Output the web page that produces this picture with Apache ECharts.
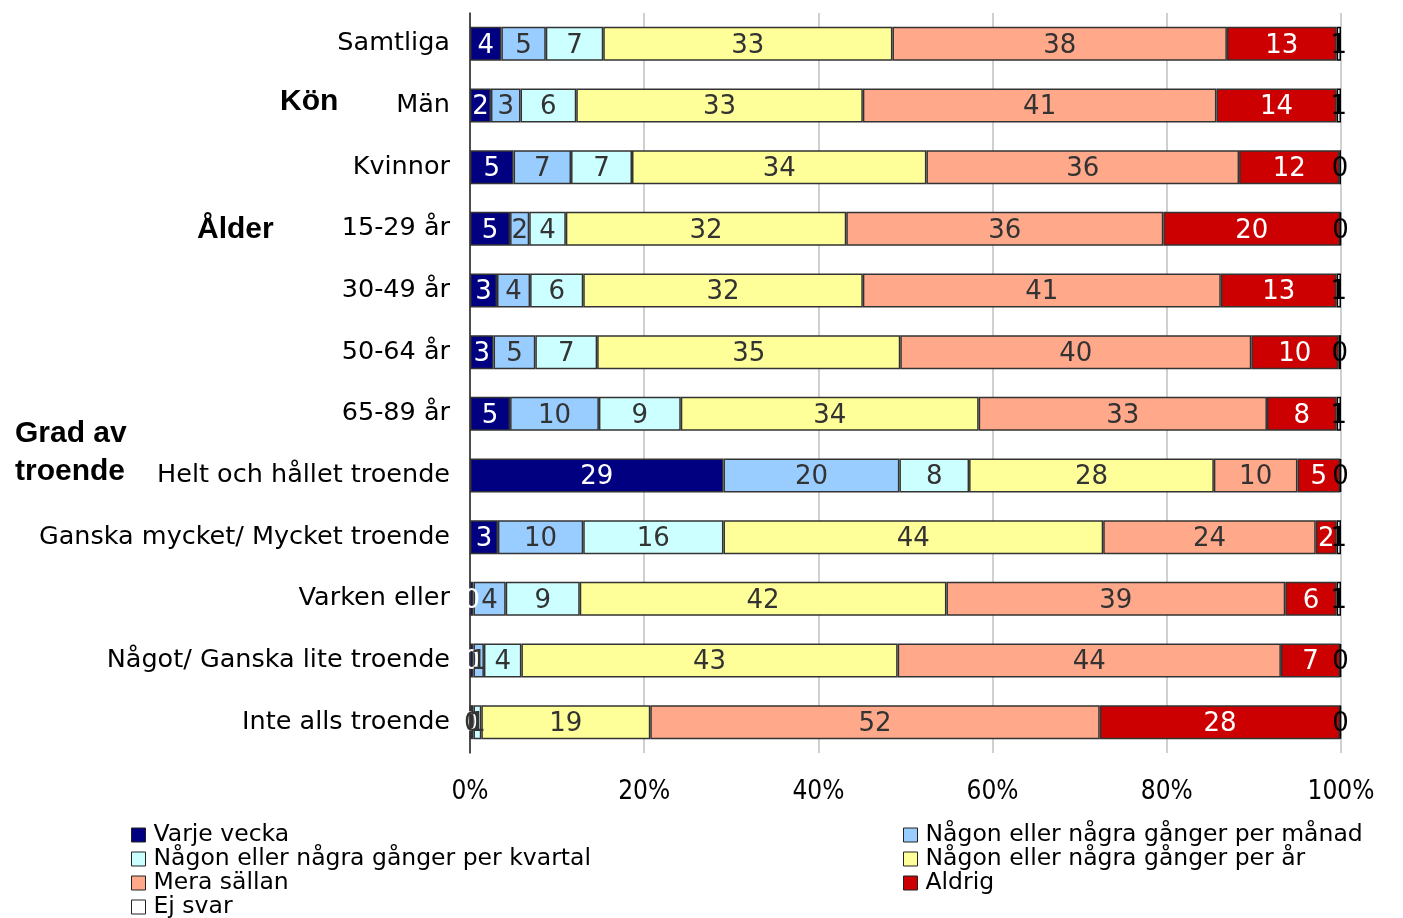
<!DOCTYPE html>
<html>
<head>
<meta charset="utf-8">
<script src="https://cdn.jsdelivr.net/npm/echarts@6/dist/echarts.min.js"></script>
<style>
  html, body { margin: 0; padding: 0; background: #fff; }
  #chart { width: 1403px; height: 918px; }
</style>
</head>
<body>
<div id="chart"></div>
<script>
// kategorier (uppifrån och ned)
const categories = ["Samtliga", "Män", "Kvinnor", "15-29 år", "30-49 år", "50-64 år", "65-89 år",
  "Helt och hållet troende", "Ganska mycket/ Mycket troende", "Varken eller",
  "Något/ Ganska lite troende", "Inte alls troende"];

// andelar i procent
const varjeVecka = [3.6, 2.4, 5.0, 4.6, 3.1, 2.7, 4.6, 29.1, 3.2, 0.4, 0.4, 0.1];
const perManad   = [5.1, 3.4, 6.6, 2.2, 3.8, 4.8, 10.2, 20.2, 9.8, 3.7, 1.2, 0.3];
const perKvartal = [6.6, 6.4, 7.0, 4.2, 6.1, 7.1, 9.4, 8.0, 16.1, 8.5, 4.3, 0.9];
const perAr      = [33.2, 32.9, 33.8, 32.2, 32.1, 34.8, 34.2, 28.1, 43.6, 42.1, 43.2, 19.4];
const meraSallan = [38.4, 40.6, 35.9, 36.4, 41.1, 40.3, 33.1, 9.6, 24.4, 38.9, 44.0, 51.6];
const aldrig     = [12.6, 13.8, 11.5, 20.3, 13.3, 10.0, 8.0, 4.9, 2.4, 5.9, 6.8, 27.6];
const ejSvar     = [0.5, 0.5, 0.2, 0.1, 0.5, 0.3, 0.5, 0.1, 0.5, 0.5, 0.1, 0.1];

const xTicks = [0, 20, 40, 60, 80, 100];

const serieNamn = ["Varje vecka", "Någon eller några gånger per månad", "Någon eller några gånger per kvartal",
  "Någon eller några gånger per år", "Mera sällan", "Aldrig", "Ej svar"];
const serieData = [varjeVecka, perManad, perKvartal, perAr, meraSallan, aldrig, ejSvar];
const farger = ["#000080", "#99CCFF", "#CCFFFF", "#FFFF99", "#FFA88A", "#CC0000", "#FFFFFF"];
const textFarg = ["#fff", "#333", "#333", "#333", "#333", "#fff", "#000"];

let myChart = echarts.init(document.getElementById("chart"));

let series = serieNamn.map((n, i) => ({
  type: "bar",
  name: n,
  stack: "total",
  barWidth: 34,
  data: serieData[i],
  animation: false,
  itemStyle: {
    color: farger[i],
    borderColor: i === 6 ? "#000" : "#333",
    borderWidth: 1.5
  },
  label: {
    show: true,
    position: "inside",
    formatter: p => Math.round(p.value),
    color: textFarg[i],
    fontFamily: "DejaVu Sans",
    fontSize: 26,
    offset: [0, 2]
  },
  emphasis: { disabled: true }
}));

let legendBas = {
  orient: "vertical",
  padding: 0,
  itemWidth: 14,
  itemHeight: 14,
  itemGap: 0,
  icon: "rect",
  selectedMode: false,
  height: 140,
  itemStyle: { borderColor: "#222", borderWidth: 1 },
  textStyle: {
    fontFamily: "DejaVu Sans",
    fontSize: 23.5,
    lineHeight: 23.6,
    color: "#000",
    padding: [0, 0, 0, 3]
  }
};

let option = {
  backgroundColor: "#fff",
  grid: {
    left: 470,
    right: 62,
    top: 13,
    bottom: 165
  },
  legend: [
    Object.assign({}, legendBas, {
      left: 131, top: 823,
      data: [serieNamn[0], serieNamn[2], serieNamn[4], serieNamn[6]]
    }),
    Object.assign({}, legendBas, {
      left: 903, top: 823,
      data: [serieNamn[1], serieNamn[3], serieNamn[5]]
    })
  ],
  xAxis: {
    type: "value",
    min: xTicks[0],
    max: xTicks[xTicks.length - 1],
    interval: 20,
    axisLine: { show: false },
    axisTick: { show: false },
    splitLine: { show: true, lineStyle: { color: "#C0C0C0", width: 1.5 } },
    axisLabel: {
      formatter: "{value}%",
      margin: 26,
      fontFamily: "DejaVu Sans Condensed, Liberation Sans Narrow, sans-serif",
      fontSize: 26,
      color: "#000"
    }
  },
  yAxis: {
    type: "category",
    inverse: true,
    data: categories,
    axisLine: { show: true, lineStyle: { color: "#222", width: 1.5 } },
    axisTick: { show: false },
    axisLabel: {
      margin: 20,
      fontFamily: "DejaVu Sans",
      fontSize: 25.5,
      color: "#000"
    }
  },
  graphic: [
    { type: "text", left: 280, top: 87, style: { text: "Kön", font: "bold 30px 'Liberation Sans', Arial", fill: "#000" } },
    { type: "text", left: 197, top: 215, style: { text: "Ålder", font: "bold 30px 'Liberation Sans', Arial", fill: "#000" } },
    { type: "text", left: 15, top: 419, style: { text: "Grad av", font: "bold 30px 'Liberation Sans', Arial", fill: "#000" } },
    { type: "text", left: 15, top: 457, style: { text: "troende", font: "bold 30px 'Liberation Sans', Arial", fill: "#000" } }
  ],
  series: series
};
myChart.setOption(option);
</script>
</body>
</html>
